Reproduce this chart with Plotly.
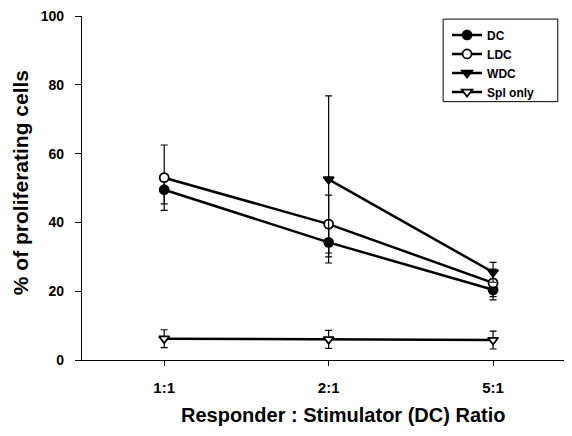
import plotly.graph_objects as go

categories = ["1:1", "2:1", "5:1"]
x_pos = [0, 1, 2]

dc_vals = [49.5, 34.2, 20.4]
dc_err = [4.1, 4.2, 2.9]
ldc_vals = [53.0, 39.5, 22.4]
ldc_err = [9.5, 8.4, 4.0]
wdc_x = [1, 2]
wdc_vals = [52.5, 25.5]
wdc_err = [24.3, 2.9]
spl_vals = [6.2, 6.0, 5.8]
spl_err = [2.6, 2.6, 2.6]

series = [
    ("DC", x_pos, dc_vals, dc_err, "circle", "black"),
    ("LDC", x_pos, ldc_vals, ldc_err, "circle", "white"),
    ("WDC", wdc_x, wdc_vals, wdc_err, "triangle-down", "black"),
    ("Spl only", x_pos, spl_vals, spl_err, "triangle-down", "white"),
]

fig = go.Figure()
for name, xs, ys, es, sym, fill in series:
    fig.add_trace(go.Scatter(
        x=xs, y=ys, name=name, mode="lines+markers",
        line=dict(color="black", width=2.5),
        marker=dict(symbol=sym, size=9, color=fill, line=dict(color="black", width=1.8)),
        error_y=dict(type="data", array=es, visible=True, color="black", thickness=1.2, width=3.5),
    ))

font = "Liberation Sans, Arial, sans-serif"
fig.update_layout(
    width=564, height=428,
    margin=dict(l=74, r=0, t=6, b=76),
    paper_bgcolor="white", plot_bgcolor="white",
    showlegend=True,
    legend=dict(
        x=0.745, y=0.987, xanchor="left", yanchor="top",
        borderwidth=0, bgcolor="rgba(0,0,0,0)",
        font=dict(family=font, size=12, color="black", weight="bold"),
        tracegroupgap=0,
    ),
    shapes=[
        dict(type="rect", xref="paper", yref="paper",
             x0=0.737, x1=0.971, y0=0.751, y1=0.991,
             line=dict(color="black", width=1), fillcolor="white", layer="above"),
    ],
    xaxis=dict(
        range=[-0.5, 2.48], tickvals=x_pos, ticktext=categories,
        showline=True, linecolor="black", linewidth=1.2,
        ticks="outside", ticklen=5, tickcolor="black",
        showgrid=False, zeroline=False,
        ticklabelstandoff=9, ticklabeloverflow="allow",
        tickfont=dict(family=font, size=15, color="black", weight="bold"),
    ),
    yaxis=dict(
        range=[0, 100], tickvals=[0, 20, 40, 60, 80, 100],
        showline=True, linecolor="black", linewidth=1.2,
        ticks="outside", ticklen=6, tickcolor="black",
        showgrid=False, zeroline=False,
        ticklabelstandoff=8, ticklabeloverflow="allow",
        tickfont=dict(family=font, size=14, color="black", weight="bold"),
    ),
    annotations=[
        dict(text="Responder : Stimulator (DC) Ratio", xref="paper", yref="paper",
             x=0.532, y=-0.159, xanchor="center", yanchor="middle", showarrow=False,
             font=dict(family=font, size=20, color="black", weight="bold")),
        dict(text="% of proliferating cells", xref="paper", yref="paper",
             x=-0.1265, y=0.514, xanchor="center", yanchor="middle", showarrow=False,
             textangle=-90,
             font=dict(family=font, size=21, color="black", weight="bold")),
    ],
)

fig.write_html("out.html")
